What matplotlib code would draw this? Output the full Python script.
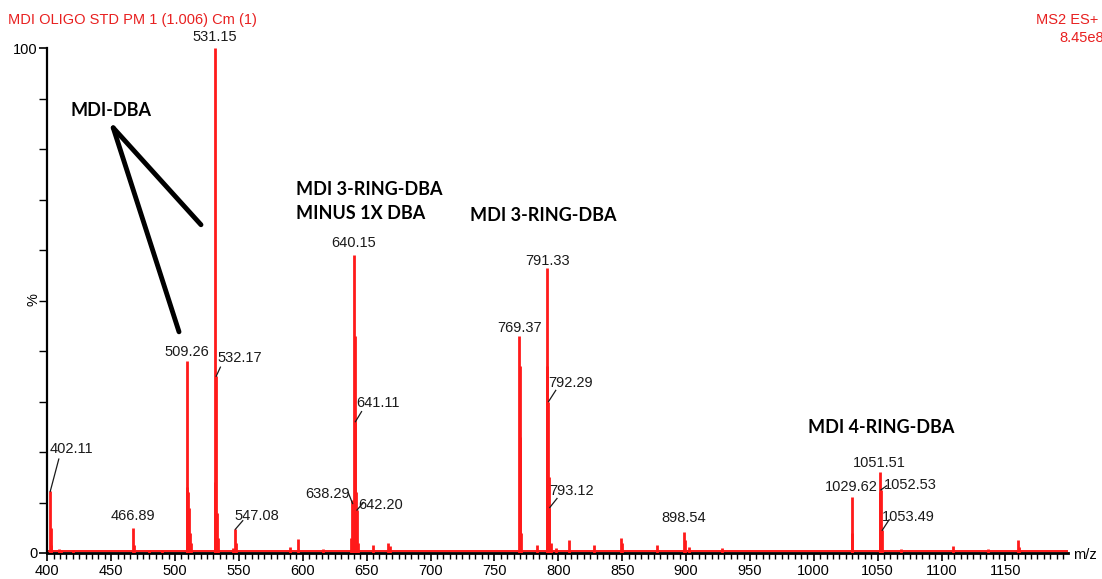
import matplotlib
matplotlib.use("Agg")
import matplotlib.pyplot as plt
from matplotlib.ticker import MultipleLocator, FixedLocator

# ---------------- data ----------------
mz = [402.11, 402.6, 403.2, 409.0, 411.0, 420.0, 466.89, 467.5, 480.0, 490.0,
      509.26, 509.7, 510.2, 510.8, 511.5, 512.3,
      531.15, 531.6, 532.17, 532.8, 533.5, 545.5, 547.08, 547.8,
      590.0, 596.0, 616.0,
      637.6, 638.29, 639.2, 640.15, 640.6, 641.11, 641.6, 642.20, 643.0,
      655.0, 667.0, 668.0,
      769.37, 769.8, 770.2, 770.9, 783.0,
      790.8, 791.33, 792.29, 792.8, 793.12, 794.0, 798.0,
      808.0, 828.0, 849.0, 850.0, 877.0, 898.54, 899.2, 902.0, 928.0,
      1029.62, 1030.2, 1051.51, 1052.0, 1052.53, 1053.49,
      1068.0, 1109.0, 1136.0, 1159.5, 1160.3]
intensity = [12.2, 5.0, 1.5, 0.8, 0.6, 0.5, 5.0, 1.5, 0.5, 0.6,
             38.0, 13.0, 12.0, 9.0, 4.0, 2.0,
             100.0, 14.0, 35.0, 8.0, 3.0, 1.0, 4.7, 2.0,
             1.2, 2.7, 0.7,
             3.0, 10.5, 3.0, 59.0, 43.0, 26.0, 12.0, 8.5, 2.0,
             1.5, 2.0, 1.3,
             43.0, 37.0, 23.0, 4.0, 1.5,
             37.0, 56.5, 30.0, 15.0, 9.0, 2.0, 1.0,
             2.5, 1.5, 3.0, 2.0, 1.5, 4.2, 2.5, 1.2, 1.0,
             11.0, 4.0, 16.0, 12.0, 12.5, 4.5,
             0.8, 1.3, 0.7, 2.5, 1.2]

peak_labels = ["531.15", "509.26", "532.17", "402.11", "466.89", "547.08",
               "640.15", "641.11", "638.29", "642.20",
               "769.37", "791.33", "792.29", "793.12", "898.54",
               "1029.62", "1051.51", "1052.53", "1053.49"]

compound_labels = ["MDI-DBA", "MDI 3-RING-DBA\nMINUS 1X DBA", "MDI 3-RING-DBA", "MDI 4-RING-DBA"]

header_left = "MDI OLIGO STD PM 1 (1.006) Cm (1)"
header_right = "MS2 ES+"
header_scale = "8.45e8"

RED = "#FF1A1A"
TXT = "#1a1a1a"

plt.rcParams['font.family'] = ['Liberation Sans', 'DejaVu Sans']

fig = plt.figure(figsize=(11.02, 5.79), dpi=100)
ax = fig.add_axes([47.3/1102, 1-553/579, (1068-47.3)/1102, (553-48)/579])

ax.set_xlim(400, 1199)
ax.set_ylim(0, 100)

# baseline
ax.plot([400, 1199], [0.4, 0.4], color=RED, lw=1.4, zorder=2)
ax.vlines(mz, 0, intensity, color=RED, lw=2.0, zorder=3)

for s in ['top', 'right']:
    ax.spines[s].set_visible(False)
ax.spines['left'].set_linewidth(1.6)
ax.spines['bottom'].set_linewidth(2.0)
ax.spines['left'].set_bounds(0, 100)

ax.xaxis.set_minor_locator(MultipleLocator(5))
ax.set_xticks(list(range(400, 1151, 50)))
ax.tick_params(axis='x', which='major', length=6, width=1.2, labelsize=10.5, pad=2, colors='black')
ax.tick_params(axis='x', which='minor', length=4, width=1.0)
ax.yaxis.set_major_locator(FixedLocator([0, 100]))
ax.yaxis.set_minor_locator(MultipleLocator(10))
ax.tick_params(axis='y', which='major', length=6, width=1.2, labelsize=10.5, pad=1)
ax.tick_params(axis='y', which='minor', length=6, width=1.0)
ax.set_yticklabels(["0", "100"])

fig.text(34/1102, 1-300/579, "%", rotation=90, ha='center', va='center', fontsize=10.5)
fig.text(1085/1102, 1-555/579, "m/z", ha='center', va='center', fontsize=10.5)

fig.text(8/1102, 1-20/579, header_left, color="#E82020", fontsize=10.5, ha='left', va='center')
fig.text(1098/1102, 1-20/579, header_right, color="#E82020", fontsize=10.5, ha='right', va='center')
fig.text(1104/1102, 1-38/579, header_scale, color="#E82020", fontsize=10.5, ha='right', va='center')

lab_pos = {
    "531.15": (531.15, 102.2, 'center', None),
    "509.26": (509.26, 39.8, 'center', None),
    "532.17": (533.2, 38.6, 'left', ((532.2, 35.0), (535.5, 36.8))),
    "402.11": (402.0, 20.6, 'left', ((402.3, 12.2), (409.0, 18.6))),
    "466.89": (466.89, 7.4, 'center', None),
    "547.08": (546.5, 7.4, 'left', ((547.2, 4.7), (553.0, 6.4))),
    "640.15": (640.15, 61.3, 'center', None),
    "641.11": (641.5, 29.8, 'left', ((641.2, 26.0), (646.0, 28.0))),
    "638.29": (637.0, 11.6, 'right', ((639.0, 9.8), (635.5, 12.0))),
    "642.20": (643.5, 9.6, 'left', ((642.4, 8.5), (647.5, 10.0))),
    "769.37": (769.37, 44.6, 'center', None),
    "791.33": (791.33, 57.9, 'center', None),
    "792.29": (792.2, 33.6, 'left', ((792.4, 30.0), (798.0, 32.2))),
    "793.12": (793.2, 12.2, 'left', ((793.3, 9.0), (799.0, 10.8))),
    "898.54": (898.54, 6.9, 'center', None),
    "1029.62": (1029.62, 13.0, 'center', None),
    "1051.51": (1051.51, 17.9, 'center', None),
    "1052.53": (1054.5, 13.4, 'left', ((1052.6, 12.5), (1057.0, 13.3))),
    "1053.49": (1053.0, 7.2, 'left', ((1053.6, 4.5), (1059.0, 6.6))),
}
for lab in peak_labels:
    x, y, ha, lead = lab_pos[lab]
    ax.text(x, y, lab, ha=ha, va='center', fontsize=10.5, color=TXT, clip_on=False, zorder=5)
    if lead is not None:
        (x0, y0), (x1, y1) = lead
        ax.plot([x0, x1], [y0, y1], color=TXT, lw=0.9, zorder=5)

comp_pos = [(417.8, 87.7), (594.6, 69.6), (730.8, 66.9), (995.2, 24.8)]
for lab, (x, y) in zip(compound_labels, comp_pos):
    ax.text(x, y, lab, ha='left', va='center', fontsize=13, fontweight='bold',
            family=['Lato', 'DejaVu Sans'], color='black', linespacing=1.45, zorder=6)

ax.plot([451.6, 520.3], [84.2, 65.0], color='black', lw=3.5, solid_capstyle='round', zorder=6)
ax.plot([451.6, 503.1], [84.2, 43.8], color='black', lw=3.5, solid_capstyle='round', zorder=6)

fig.savefig("out.png", dpi=100)
